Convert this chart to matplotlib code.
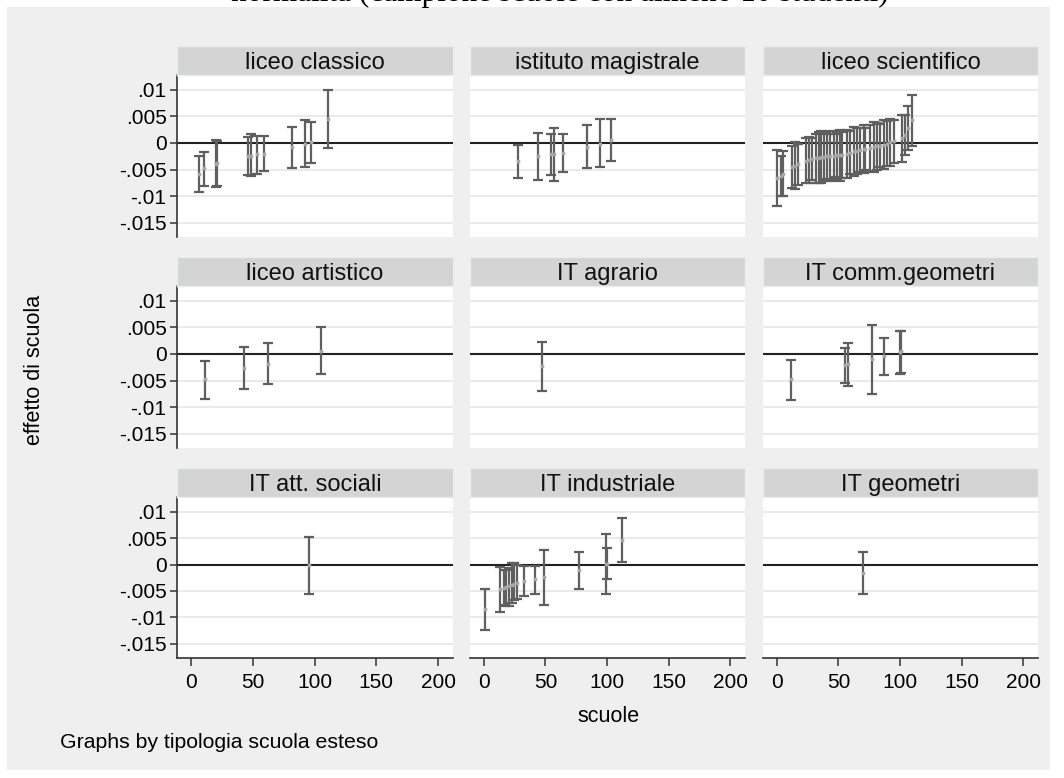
import matplotlib
matplotlib.use('Agg')
import matplotlib.pyplot as plt
import numpy as np

plt.rcParams['font.family'] = ['Liberation Sans', 'DejaVu Sans']

# panel titles (row by row)
panels = ['liceo classico', 'istituto magistrale', 'liceo scientifico',
          'liceo artistico', 'IT agrario', 'IT comm.geometri',
          'IT att. sociali', 'IT industriale', 'IT geometri']

# liceo classico: school position, effect, lower, upper
lc_x = [6.5, 10.3, 20.5, 21.2, 46.4, 48.3, 53.7, 58.8, 81.5, 92.2, 97.4, 111.1]
lc_y = [-0.0059, -0.0048, -0.0039, -0.0038, -0.0024, -0.0024, -0.0021, -0.0020, -0.0008, -0.0001, 0.0001, 0.0046]
lc_lo = [-0.0093, -0.0081, -0.0082, -0.0081, -0.0061, -0.0063, -0.0058, -0.0052, -0.0048, -0.0046, -0.0038, -0.0009]
lc_hi = [-0.0025, -0.0017, 0.0005, 0.0004, 0.0011, 0.0017, 0.0013, 0.0013, 0.0030, 0.0043, 0.0040, 0.0100]

# istituto magistrale
im_x = [27.8, 43.7, 54.8, 57.0, 63.9, 83.9, 93.9, 102.8]
im_y = [-0.0034, -0.0025, -0.0021, -0.0021, -0.0018, -0.0007, -0.0001, 0.0005]
im_lo = [-0.0065, -0.0069, -0.0061, -0.0071, -0.0054, -0.0048, -0.0046, -0.0034]
im_hi = [-0.0003, 0.0019, 0.0017, 0.0028, 0.0017, 0.0033, 0.0045, 0.0045]

# liceo scientifico
ls_x = [0.3, 3.0, 4.9, 12.4, 14.6, 17.3, 24.0, 25.9, 28.6, 31.8, 34.0, 36.1, 38.0,
        40.7, 43.4, 46.1, 48.8, 51.5, 52.9, 56.9, 59.6, 62.3, 65.0, 67.7, 70.4,
        71.8, 75.8, 78.5, 81.2, 83.9, 86.6, 89.2, 92.0, 94.7, 101.4, 104.1, 106.8, 109.5]
ls_y = [-0.0066, -0.0062, -0.0058, -0.0045, -0.0043, -0.0040, -0.0033, -0.0032,
        -0.0030, -0.0029, -0.0028, -0.0027, -0.0026, -0.0025, -0.0025, -0.0024,
        -0.0023, -0.0023, -0.0022, -0.0020, -0.0018, -0.0016, -0.0015, -0.0013,
        -0.0012, -0.0011, -0.0009, -0.0008, -0.0006, -0.0005, -0.0003, -0.0001,
        0.0001, 0.0003, 0.0009, 0.0015, 0.0028, 0.0043]
ls_hw = [0.0053, 0.0038, 0.0042, 0.0040, 0.0044, 0.0039, 0.0042, 0.0044, 0.0040,
         0.0046, 0.0048, 0.0049, 0.0045, 0.0042, 0.0047, 0.0040, 0.0044, 0.0048,
         0.0043, 0.0045, 0.0041, 0.0047, 0.0044, 0.0042, 0.0045, 0.0040, 0.0043,
         0.0047, 0.0044, 0.0041, 0.0046, 0.0043, 0.0045, 0.0040, 0.0044, 0.0038,
         0.0041, 0.0048]

# liceo artistico
la_x = [11.3, 42.6, 62.3, 105.2]
la_y = [-0.0048, -0.0027, -0.0018, 0.0006]
la_lo = [-0.0084, -0.0066, -0.0056, -0.0038]
la_hi = [-0.0014, 0.0014, 0.0021, 0.0050]

# IT agrario
ag_x = [46.9]
ag_y = [-0.0023]
ag_lo = [-0.0070]
ag_hi = [0.0022]

# IT comm.geometri
cg_x = [11.3, 55.3, 57.7, 77.1, 87.1, 100.3, 101.0]
cg_y = [-0.0048, -0.0021, -0.0019, -0.0009, -0.0004, 0.0004, 0.0005]
cg_lo = [-0.0087, -0.0054, -0.0060, -0.0075, -0.0040, -0.0038, -0.0036]
cg_hi = [-0.0011, 0.0011, 0.0021, 0.0054, 0.0031, 0.0044, 0.0043]

# IT att. sociali
as_x = [95.5]
as_y = [-0.0001]
as_lo = [-0.0055]
as_hi = [0.0052]

# IT industriale
ind_x = [0.8, 12.7, 16.2, 18.1, 20.2, 23.0, 24.8, 27.0, 32.7, 41.3, 49.1, 77.2, 99.3, 100.1, 112.0]
ind_y = [-0.0084, -0.0047, -0.0044, -0.0042, -0.0040, -0.0038, -0.0036, -0.0035,
         -0.0031, -0.0028, -0.0024, -0.0011, 0.0001, 0.0001, 0.0046]
ind_lo = [-0.0124, -0.0090, -0.0076, -0.0078, -0.0078, -0.0073, -0.0068, -0.0066,
          -0.0059, -0.0056, -0.0076, -0.0046, -0.0056, -0.0028, 0.0004]
ind_hi = [-0.0046, -0.0004, -0.0011, -0.0011, -0.0006, 0.0003, 0.0003, -0.0001,
          -0.0003, -0.0003, 0.0028, 0.0024, 0.0058, 0.0031, 0.0088]

# IT geometri
ge_x = [69.6]
ge_y = [-0.0016]
ge_lo = [-0.0055]
ge_hi = [0.0024]

ls_lo = [y - h for y, h in zip(ls_y, ls_hw)]
ls_hi = [y + h for y, h in zip(ls_y, ls_hw)]

data = [(lc_x, lc_y, lc_lo, lc_hi), (im_x, im_y, im_lo, im_hi), (ls_x, ls_y, ls_lo, ls_hi),
        (la_x, la_y, la_lo, la_hi), (ag_x, ag_y, ag_lo, ag_hi), (cg_x, cg_y, cg_lo, cg_hi),
        (as_x, as_y, as_lo, as_hi), (ind_x, ind_y, ind_lo, ind_hi), (ge_x, ge_y, ge_lo, ge_hi)]

yticks = [0.01, 0.005, 0, -0.005, -0.01, -0.015]
ytick_labels = ['.01', '.005', '0', '-.005', '-.01', '-.015']
xticks = [0, 50, 100, 150, 200]

W, H = 1064, 778
fig = plt.figure(figsize=(W / 100, H / 100), dpi=100)
fig.patch.set_facecolor('white')
# gray graph region behind everything
bg = fig.add_axes([7 / W, 8 / H, (1050 - 7) / W, (771 - 8) / H], zorder=-10)
bg.set_facecolor('#efefef')
bg.set_xticks([])
bg.set_yticks([])
for s in bg.spines.values():
    s.set_visible(False)

cols = [(177, 453), (470, 745), (763, 1038)]
rows = [(75, 237), (286, 448), (497, 658)]
strip_h = 29

bar_col = '#5f5f5f'
pt_col = '#a6a6a6'

for k, name in enumerate(panels):
    r, c = divmod(k, 3)
    x0, x1 = cols[c]
    y0, y1 = rows[r]
    ax = fig.add_axes([x0 / W, 1 - y1 / H, (x1 - x0) / W, (y1 - y0) / H])
    ax.set_facecolor('white')
    ax.set_xlim(-11.3, 212)
    ax.set_ylim(-0.0177, 0.0128)
    for yt in yticks:
        if yt != 0:
            ax.axhline(yt, color='#e8e8e8', lw=1.3, zorder=1)
    ax.axhline(0, color='#222222', lw=1.5, zorder=2)

    xs, ys, lo, hi = data[k]
    xs = np.array(xs)
    ys = np.array(ys)
    yerr = [ys - np.array(lo), np.array(hi) - ys]
    ax.errorbar(xs, ys, yerr=yerr, fmt='none', ecolor=bar_col, elinewidth=1.6,
                capsize=3.8, capthick=1.6, zorder=3)
    ax.plot(xs, ys, 'o', color=pt_col, ms=2.8, mec='none', zorder=4)

    for s in ['top', 'right']:
        ax.spines[s].set_visible(False)
    ax.spines['left'].set_visible(c == 0)
    ax.spines['bottom'].set_visible(r == 2)
    for s in ['left', 'bottom']:
        ax.spines[s].set_color('#333333')
        ax.spines[s].set_linewidth(1.2)

    ax.set_yticks(yticks)
    ax.set_xticks(xticks)
    if c == 0:
        ax.set_yticklabels(ytick_labels, fontsize=15)
        ax.tick_params(axis='y', length=5, width=1.1, color='#333333', pad=2.5)
    else:
        ax.tick_params(axis='y', left=False, labelleft=False)
    if r == 2:
        ax.set_xticklabels([str(v) for v in xticks], fontsize=15)
        ax.tick_params(axis='x', length=6, width=1.1, color='#333333', pad=5)
    else:
        ax.tick_params(axis='x', bottom=False, labelbottom=False)

    sax = fig.add_axes([x0 / W, 1 - y0 / H, (x1 - x0) / W, strip_h / H])
    sax.set_facecolor('#d4d4d4')
    sax.set_xticks([])
    sax.set_yticks([])
    for s in sax.spines.values():
        s.set_color('#e4eef2')
        s.set_linewidth(1.0)
    sax.text(0.5, 0.42, name, ha='center', va='center', fontsize=17, color='#111111',
             transform=sax.transAxes)

fig.text(35 / W, 1 - 370 / H, 'effetto di scuola', rotation=90, ha='center', va='center',
         fontsize=15.5)
fig.text(609 / W, 1 - 716 / H, 'scuole', ha='center', va='center', fontsize=15.5)
fig.text(60 / W, 1 - 742 / H, 'Graphs by tipologia scuola esteso', ha='left', va='center',
         fontsize=15.3)
# title is cut off at the top edge in the reference
fig.text(889 / W, 1 - 1 / H, 'normalità (campione scuole con almeno 10 studenti)',
         ha='right', va='baseline', fontsize=22.5, family=['Liberation Serif', 'DejaVu Serif'])

fig.savefig('out.png', dpi=100, facecolor=fig.get_facecolor())
